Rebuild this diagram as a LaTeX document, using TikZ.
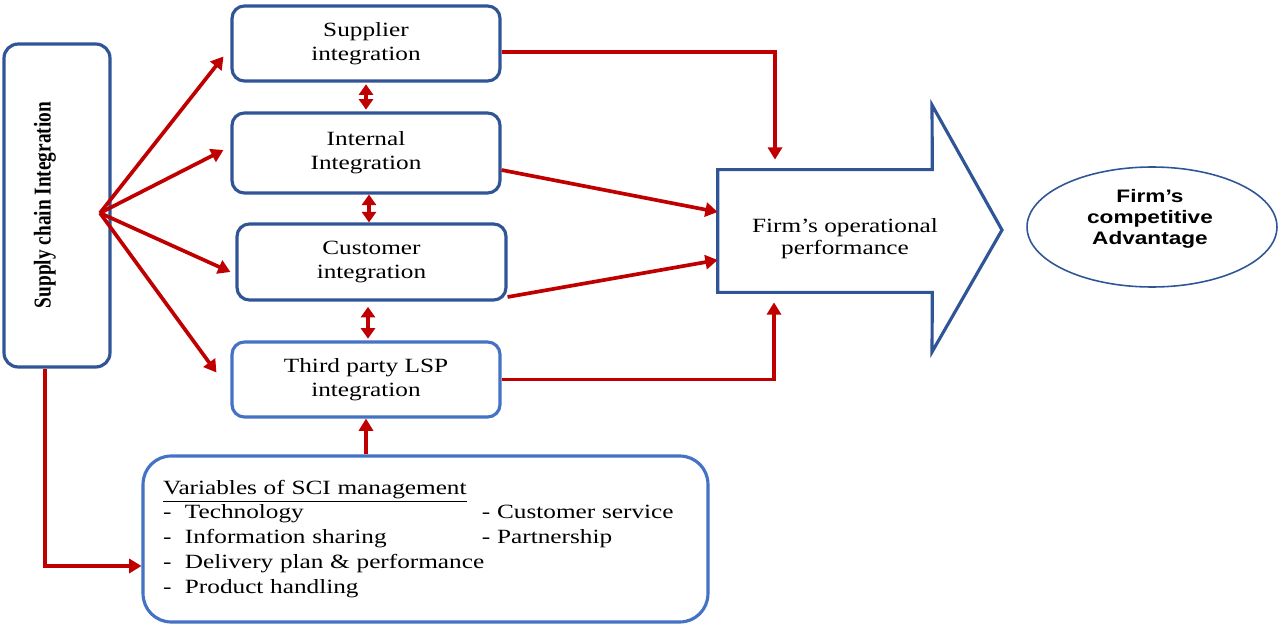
\documentclass[tikz,border=0pt]{standalone}
\usepackage{fontspec}
\setmainfont[FakeStretch=1.25]{Liberation Serif}
\newfontfamily\scifont{Liberation Serif}
\newfontfamily\advfont[FakeStretch=1.25]{Liberation Sans}
\usetikzlibrary{arrows.meta,positioning,calc,shapes.geometric}
\usepackage{xcolor}

\definecolor{boxblue}{RGB}{47,85,151}
\definecolor{lightblue}{RGB}{68,114,196}
\definecolor{linkred}{RGB}{192,0,0}

\tikzset{
	ibox/.style={draw=boxblue,line width=1.8pt,rounded corners=7pt,align=center,minimum width=5.36cm,minimum height=1.5cm,font=\fontsize{11.5}{13.5}\selectfont},
	redarrow/.style={-{Triangle[length=7pt,width=8pt]},draw=linkred,line width=2.1pt},
	dblarrow/.style={{Triangle[length=6pt,width=8pt]}-{Triangle[length=6pt,width=8pt]},draw=linkred,line width=2.1pt}
}

\begin{document}
\begin{tikzpicture}[x=0.02cm,y=-0.02cm]
	\useasboundingbox (0,0) rectangle (1279,625);
	\node[draw=boxblue,line width=1.8pt,rounded corners=8pt,minimum width=2.12cm,minimum height=6.46cm] (sci) at (57,205.5) {};
	\node[rotate=90,font=\scifont\bfseries\fontsize{11}{12}\selectfont] (scitext) at (45,205) {\scalebox{1}[1.25]{Supply chain Integration}};
	\coordinate (fan) at (100,213);
	\node[ibox] (sup) at (366,43.5) {Supplier\\integration};
	\node[ibox,minimum height=1.6cm] (int) at (366,153) {Internal\\Integration};
	\node[ibox,minimum width=5.38cm,minimum height=1.52cm] (cust) at (371.5,262) {Customer\\integration};
	\node[ibox,draw=lightblue] (lsp) at (366,379.5) {Third party LSP\\integration};
	\node[draw=lightblue,line width=1.8pt,rounded corners=16pt,minimum width=11.3cm,minimum height=3.32cm,text width=10.5cm,align=left,font=\fontsize{11.5}{14.2}\selectfont] (var) at (425.5,539) {\underline{Variables of SCI management}\\
		\makebox[6.38cm][l]{-\ \ Technology}- Customer service\\
		\makebox[6.38cm][l]{-\ \ Information sharing}- Partnership\\
		-\ \ Delivery plan \& performance\\
		-\ \ Product handling};
	\node[minimum width=4.28cm,minimum height=2.44cm,inner sep=0pt] (perf) at (825,231) {};
	\draw[draw=boxblue,line width=1.8pt,line join=miter] (perf.north east) -- (perf.north west) -- (perf.south west) -- (perf.south east) -- (932,352) -- (1002,230) -- (932,105) -- cycle;
	\node[align=center,font=\fontsize{11.5}{12.5}\selectfont] (perftext) at (845,239) {Firm’s operational\\performance};
	\node[draw=boxblue,line width=0.9pt,ellipse,minimum width=5cm,minimum height=2.4cm] (adv) at (1152,227) {};
	\node[align=center,font=\advfont\bfseries\fontsize{10.3}{12}\selectfont] (advtext) at (1150,219) {Firm’s\\competitive\\Advantage};
	\draw[redarrow] (fan) -- ($(sup.west)+(-7,13)$);
	\draw[redarrow] (fan) -- ($(int.west)+(-7,-3)$);
	\draw[redarrow] (fan) -- ($(cust.west)+(-5,10)$);
	\draw[redarrow] (fan) -- ($(lsp.west)+(-14,-7)$);
	\draw[dblarrow,shorten <=1pt,shorten >=1pt] (sup.south) -- (int.north);
	\draw[dblarrow] ([xshift=0.06cm]int.south) -- ([xshift=-0.05cm]cust.north);
	\draw[dblarrow,shorten <=3pt,shorten >=1pt] ([xshift=-0.07cm]cust.south) -- ([xshift=0.04cm]lsp.north);
	\draw[redarrow] (var.north -| lsp.south) -- (lsp.south);
	\draw[redarrow] ([xshift=-0.24cm]sci.south) |- ($(var.west)+(0,27)$);
	\draw[redarrow] ([yshift=-0.17cm]sup.east) -| ([xshift=-1cm,yshift=0.2cm]perf.north);
	\draw[redarrow] ([yshift=-0.34cm]int.east) -- ($(perf.west)+(0,-19)$);
	\draw[redarrow] ([yshift=-0.7cm]cust.east) -- ($(perf.west)+(0,29)$);
	\draw[redarrow] (lsp.east) -| ([xshift=-1.02cm,yshift=-0.2cm]perf.south);
\end{tikzpicture}
\end{document}
